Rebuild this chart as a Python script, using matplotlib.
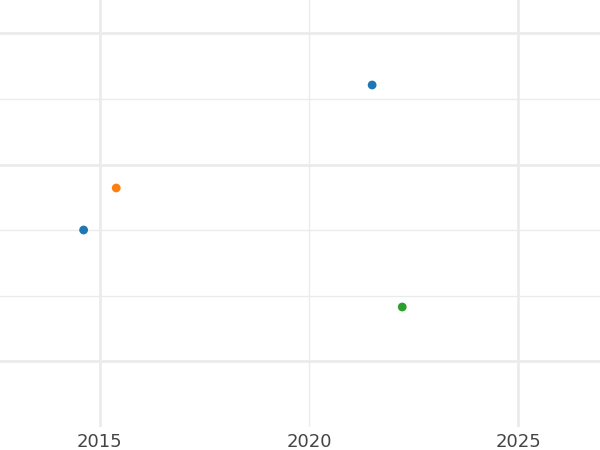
import matplotlib
matplotlib.use("Agg")
import matplotlib.pyplot as plt

years = [2014.61, 2015.39, 2021.51, 2022.23]
values = [197, 239, 342, 120]
colors = ["#1f77b4", "#ff7f0e", "#1f77b4", "#2ca02c"]
x_ticks = [2015, 2020, 2025]
x_major_grid = [2015, 2025]
x_minor_grid = [2020]
y_major = [66, 262, 394]
y_minor = [131, 197, 328]

fig = plt.figure(figsize=(6, 4.5), dpi=100)
ax = fig.add_axes([0, 1 - 427 / 450, 1, 427 / 450])
ax.set_xlim(2012.61, 2026.96)
ax.set_ylim(0, 427)
for y in y_major:
    ax.axhline(y, color="#ebebeb", lw=2, zorder=0)
for y in y_minor:
    ax.axhline(y, color="#ebebeb", lw=1, zorder=0)
for x in x_major_grid:
    ax.axvline(x, color="#ebebeb", lw=2, zorder=0)
for x in x_minor_grid:
    ax.axvline(x, color="#ebebeb", lw=1, zorder=0)
ax.scatter(years, values, c=colors, s=40, zorder=3, edgecolors="none")
ax.set_xticks(x_ticks)
ax.set_xticklabels([str(t) for t in x_ticks], fontsize=13, color="#444444")
ax.tick_params(axis="x", length=0, pad=4)
ax.set_yticks([])
for s in ax.spines.values():
    s.set_visible(False)
fig.savefig("out.png", dpi=100)
